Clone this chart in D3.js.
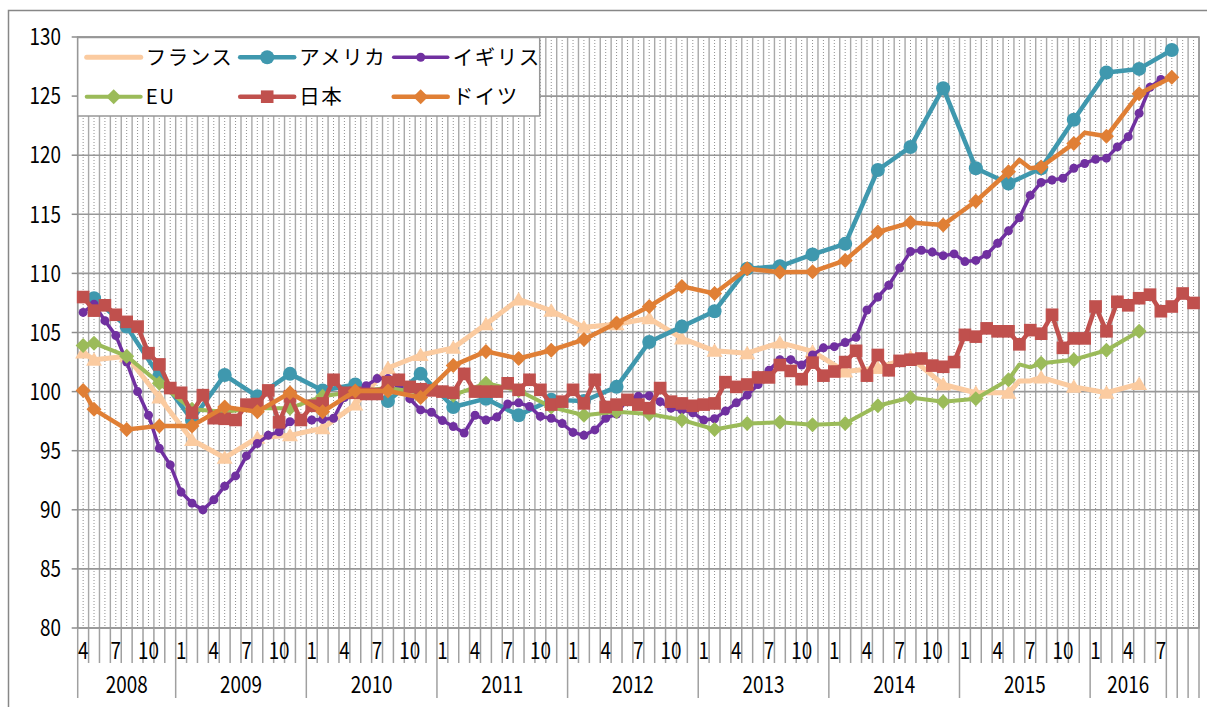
<!DOCTYPE html>
<meta charset="utf-8" />
<head>
  <script src="https://d3js.org/d3.v7.min.js"></script>
  <script>window.d3 || document.write('<script src="https://cdn.jsdelivr.net/npm/d3@7/dist/d3.min.js"><\/script>');</script>
  <style>
    body { margin: 0; background: #fff; }
    text { font-family: "Noto Sans CJK JP", "Noto Sans", sans-serif; fill: #000; }
  </style>
</head>
<body>
  <svg id="chart" width="1207" height="707"></svg>
<script>
  // categories: monthly, 2008-04 .. 2016-10
  const startYear = 2008, startMonth = 4, monthCount = 103;
  const months = d3.range(monthCount).map((i) => {
    const m = startMonth - 1 + i;
    return `${startYear + Math.floor(m / 12)}-${String((m % 12) + 1).padStart(2, "0")}`;
  });

  // outer axis level: year label and number of months in the group
  const yearGroups = [
    ["2008", 9], ["2009", 12], ["2010", 12], ["2011", 12], ["2012", 12],
    ["2013", 12], ["2014", 12], ["2015", 12], ["2016", 7], ["", 1], ["", 1], ["", 1],
  ];
  const yTicks = [80, 85, 90, 95, 100, 105, 110, 115, 120, 125, 130];

  // quarterly series months (a few extra monthly points in 2015 carry no marker)
  const qMonths = [
    "2008-04", "2008-05", "2008-08", "2008-11", "2009-02", "2009-05", "2009-08", "2009-11",
    "2010-02", "2010-05", "2010-08", "2010-11", "2011-02", "2011-05", "2011-08", "2011-11",
    "2012-02", "2012-05", "2012-08", "2012-11", "2013-02", "2013-05", "2013-08", "2013-11",
    "2014-02", "2014-05", "2014-08", "2014-11", "2015-02", "2015-05", "2015-06", "2015-07",
    "2015-08", "2015-11", "2015-12", "2016-02", "2016-05", "2016-08",
  ];
  const noMarker = ["2015-06", "2015-07", "2015-12"];

  const france = [
    103.3, 102.7, 103.0, 99.5, 95.9, 94.4, 96.1, 96.3,
    96.9, 98.9, 102.0, 103.1, 103.7, 105.7, 107.8, 106.85,
    105.45, 105.7, 106.2, 104.5, 103.45, 103.25, 104.15, 103.4,
    101.7, 102.0, 102.9, 100.6, 99.9, 99.9, 100.9, 100.9,
    101.2, 100.4, null, 99.9, 100.65, null,
  ];
  const usa = [
    null, 107.9, 105.5, 101.3, 97.6, 101.4, 99.6, 101.5,
    100.1, 100.6, 99.2, 101.5, 98.7, 99.4, 98.0, 99.3,
    99.2, 100.4, 104.2, 105.5, 106.8, 110.4, 110.6, 111.6,
    112.5, 118.75, 120.7, 125.67, 118.9, 117.6, null, null,
    118.9, 123.0, null, 127.0, 127.3, 128.9,
  ];
  const eu = [
    103.9, 104.1, 103.0, 100.7, 98.5, 98.3, 98.6, 98.6,
    99.6, 100.0, 100.3, 99.9, 99.7, 100.7, 100.1, 98.7,
    98.0, 98.3, 98.1, 97.6, 96.8, 97.3, 97.4, 97.2,
    97.3, 98.8, 99.5, 99.15, 99.4, 101.0, 102.3, 102.05,
    102.4, 102.7, null, 103.5, 105.1, null,
  ];
  const germany = [
    100.1, 98.5, 96.8, 97.1, 97.1, 98.7, 98.3, 99.9,
    98.3, 100.05, 100.05, 99.5, 102.2, 103.4, 102.8, 103.5,
    104.4, 105.8, 107.2, 108.9, 108.3, 110.4, 110.1, 110.15,
    111.1, 113.5, 114.3, 114.1, 116.1, 118.6, 119.6, 118.9,
    119.0, 121.0, 121.9, 121.6, 125.2, 126.6,
  ];

  // monthly series
  const uk = [
    106.7, 107.4, 106.0, 104.75, 102.5, 100.0, 98.0, 95.2, 93.8, 91.5,
    90.56, 90.0, 90.84, 92.0, 92.87, 94.56, 95.6, 96.3, 96.6, 97.45,
    97.5, 97.6, 97.65, 97.75, 99.5, 99.9, 100.5, 101.1, 101.1, 100.5,
    99.4, 98.45, 98.25, 97.55, 97.05, 96.5, 98.0, 97.6, 97.85, 98.95,
    99.05, 98.75, 97.9, 97.75, 97.3, 96.55, 96.3, 96.76, 97.75, 98.1,
    99.35, 99.6, 99.65, 99.15, 98.6, 98.45, 98.2, 97.6, 97.7, 98.35,
    99.05, 99.7, 100.6, 101.8, 102.7, 102.7, 102.25, 103.1, 103.7, 103.8,
    104.15, 104.6, 106.9, 108.0, 109.0, 110.45, 111.85, 111.95, 111.8, 111.5,
    111.65, 111.0, 111.1, 111.6, 112.55, 113.6, 114.7, 116.6, 117.7, 117.9,
    118.05, 118.9, 119.3, 119.66, 119.75, 120.7, 121.57, 123.55, 125.75, 126.4,
  ];
  const japan = [
    108.0, 106.85, 107.3, 106.5, 105.9, 105.5, 103.25, 102.3, 100.3, 99.9,
    98.2, 99.7, 97.75, 97.7, 97.6, 98.9, 98.95, 100.1, 97.4, 99.6,
    97.6, 98.8, 99.0, 101.0, 99.9, 99.9, 99.8, 99.8, 100.8, 101.0,
    100.4, 100.2, 100.1, 100.0, 99.9, 101.5, 100.0, 100.0, 100.0, 100.7,
    100.15, 101.0, 100.15, 98.9, 99.15, 100.15, 99.0, 101.0, 98.7, 98.9,
    99.3, 98.9, 98.6, 100.3, 99.15, 99.0, 98.8, 98.9, 99.0, 100.8,
    100.4, 100.6, 101.2, 101.2, 102.25, 101.75, 101.05, 102.45, 101.35, 101.7,
    102.5, 103.45, 101.35, 103.1, 101.8, 102.6, 102.7, 102.8, 102.2, 102.1,
    102.5, 104.8, 104.65, 105.35, 105.1, 105.1, 104.0, 105.2, 104.9, 106.5,
    103.7, 104.5, 104.5, 107.2, 105.1, 107.6, 107.3, 107.9, 108.2, 106.8,
    107.2, 108.3, 107.5,
  ];

  const series = [
    { name: "フランス", keys: qMonths, values: france, color: "#fbcba0", width: 5, shape: "triangle", legendMarker: false },
    { name: "アメリカ", keys: qMonths, values: usa, color: "#3f98ae", width: 4.5, shape: "circle", size: 7, legendMarker: true },
    { name: "イギリス", keys: months, values: uk, color: "#7030a0", width: 3.5, shape: "dot", size: 4.5, legendMarker: true },
    { name: "EU", keys: qMonths, values: eu, color: "#9bbb59", width: 4, shape: "diamond", legendMarker: true },
    { name: "日本", keys: months, values: japan, color: "#c0504d", width: 4.5, shape: "square", legendMarker: true },
    { name: "ドイツ", keys: qMonths, values: germany, color: "#e07f35", width: 4.5, shape: "diamond", legendMarker: true },
  ];

  const svg = d3.select("#chart");
  const plot = { left: 77.7, right: 1199, top: 37, bottom: 628 };

  const x = d3.scaleBand().domain(months).range([plot.left, plot.right]);
  const y = d3.scaleLinear().domain([80, 130]).range([plot.bottom, plot.top]);
  const step = x.step();

  // chart area border
  svg.append("rect")
    .attr("x", 8.5).attr("y", 10.5).attr("width", 1230).attr("height", 730)
    .attr("fill", "#fff").attr("stroke", "#878787").attr("stroke-width", 1.5);

  // grid
  const grid = svg.append("g");
  grid.selectAll(".vmaj")
    .data(d3.range(monthCount + 1))
    .join("line")
    .attr("x1", (i) => plot.left + i * step).attr("x2", (i) => plot.left + i * step)
    .attr("y1", plot.top).attr("y2", plot.bottom)
    .attr("stroke", "#a9a9a9").attr("stroke-width", 1.4);
  grid.selectAll(".vmin")
    .data(months)
    .join("line")
    .attr("x1", (d) => x(d) + step / 2).attr("x2", (d) => x(d) + step / 2)
    .attr("y1", plot.top).attr("y2", plot.bottom)
    .attr("stroke", "#8f8f8f").attr("stroke-width", 1)
    .attr("stroke-dasharray", "1,2");
  grid.selectAll(".h")
    .data(yTicks)
    .join("line")
    .attr("x1", plot.left).attr("x2", plot.right)
    .attr("y1", (d) => y(d)).attr("y2", (d) => y(d))
    .attr("stroke", "#979797").attr("stroke-width", 1.6);
  svg.append("rect")
    .attr("x", plot.left).attr("y", plot.top)
    .attr("width", plot.right - plot.left).attr("height", plot.bottom - plot.top)
    .attr("fill", "none").attr("stroke", "#979797").attr("stroke-width", 1.6);

  // y axis
  const yAxis = svg.append("g");
  yAxis.selectAll("line")
    .data(yTicks)
    .join("line")
    .attr("x1", plot.left - 6).attr("x2", plot.left)
    .attr("y1", (d) => y(d)).attr("y2", (d) => y(d))
    .attr("stroke", "#8c8c8c").attr("stroke-width", 1.5);
  yAxis.selectAll("text")
    .data(yTicks)
    .join("text")
    .attr("transform", (d) => `translate(61,${y(d)}) scale(0.82,1)`)
    .attr("text-anchor", "end")
    .attr("dy", "0.36em")
    .attr("font-size", 23)
    .text((d) => d);

  // x axis: month ticks, month labels, year groups
  const xAxis = svg.append("g");
  const yearStarts = [];
  let acc = 0;
  yearGroups.forEach(([label, n]) => { yearStarts.push(acc); acc += n; });
  yearStarts.push(acc);

  xAxis.selectAll(".mt")
    .data(d3.range(monthCount + 1))
    .join("line")
    .attr("x1", (i) => plot.left + i * step).attr("x2", (i) => plot.left + i * step)
    .attr("y1", plot.bottom)
    .attr("y2", (i) => (yearStarts.includes(i) ? 698 : 663))
    .attr("stroke", "#a0a0a0").attr("stroke-width", 1.5);

  const blankFrom = monthCount - 3;
  xAxis.selectAll(".ml")
    .data(months.filter((d, i) => i % 3 === 0 && i < blankFrom))
    .join("text")
    .attr("transform", (d) => `translate(${x(d) + step / 2},651) scale(0.82,1)`)
    .attr("text-anchor", "middle")
    .attr("dy", "0.36em")
    .attr("font-size", 23)
    .text((d) => +d.slice(5));

  xAxis.selectAll(".yl")
    .data(yearGroups.map((g, i) => ({ label: g[0], from: yearStarts[i], to: yearStarts[i + 1] })).filter((g) => g.label))
    .join("text")
    .attr("transform", (g) => `translate(${plot.left + ((g.from + g.to) / 2) * step},685) scale(0.82,1)`)
    .attr("text-anchor", "middle")
    .attr("dy", "0.36em")
    .attr("font-size", 23)
    .text((g) => g.label);

  // marker shapes
  const shapePath = (shape, s) => {
    switch (shape) {
      case "triangle": return "M0,-7.5L8,6L-8,6Z";
      case "diamond": return "M0,-7.5L7.5,0L0,7.5L-7.5,0Z";
      case "square": return "M-6.3,-6.3H6.3V6.3H-6.3Z";
      default: return d3.symbol(d3.symbolCircle, Math.PI * s * s)();
    }
  };

  const line = d3.line().x((d) => x(d.key) + step / 2).y((d) => y(d.v));

  series.forEach((s) => {
    const pts = s.keys.map((k, i) => ({ key: k, v: s.values[i] })).filter((d) => d.v != null);
    const g = svg.append("g");
    g.append("path")
      .attr("d", line(pts))
      .attr("fill", "none")
      .attr("stroke", s.color)
      .attr("stroke-width", s.width)
      .attr("stroke-linejoin", "round");
    g.selectAll("path.m")
      .data(s.keys === qMonths ? pts.filter((d) => !noMarker.includes(d.key)) : pts)
      .join("path")
      .attr("class", "m")
      .attr("transform", (d) => `translate(${x(d.key) + step / 2},${y(d.v)})`)
      .attr("d", shapePath(s.shape, s.size))
      .attr("fill", s.color);
  });

  // legend
  const legend = svg.append("g");
  legend.append("rect")
    .attr("x", plot.left).attr("y", plot.top + 0.5)
    .attr("width", 462).attr("height", 78.5)
    .attr("fill", "#fff").attr("stroke", "#979797").attr("stroke-width", 1.5);
  const item = legend.selectAll(".item")
    .data(series)
    .join("g")
    .attr("transform", (d, i) => `translate(${86.7 + (i % 3) * 153.5},${i < 3 ? 57.3 : 96.7})`);
  item.append("line")
    .attr("x1", 0).attr("x2", 54)
    .attr("stroke", (d) => d.color)
    .attr("stroke-width", (d) => d.width)
    .attr("stroke-linecap", "round");
  item.filter((d) => d.legendMarker)
    .append("path")
    .attr("transform", "translate(27,0)")
    .attr("d", (d) => shapePath(d.shape, d.size))
    .attr("fill", (d) => d.color);
  item.append("text")
    .attr("x", 59)
    .attr("dy", "0.36em")
    .attr("font-size", 20.5)
    .attr("letter-spacing", 1.5)
    .text((d) => d.name);
</script>
</body>
